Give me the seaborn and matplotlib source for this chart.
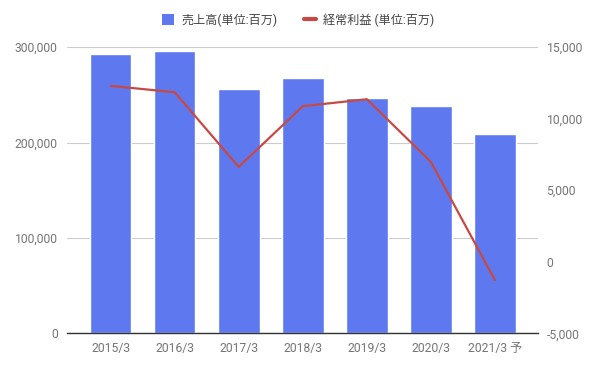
import numpy as np
import pandas as pd
import seaborn as sns
import matplotlib.pyplot as plt
from matplotlib.lines import Line2D
from matplotlib.patches import Patch
from matplotlib.ticker import FuncFormatter

# data
years = ["2015/3", "2016/3", "2017/3", "2018/3", "2019/3", "2020/3", "2021/3 予"]
sales = [292400, 295900, 255800, 267300, 246300, 238300, 208600]
ordinary_profit = [12290, 11850, 6630, 10870, 11360, 6980, -1280]

sales_label = "売上高(単位:百万)"
profit_label = "経常利益 (単位:百万)"

df = pd.DataFrame({"year": years, "sales": sales, "profit": ordinary_profit})

sns.set_style("white")
plt.rcParams["font.family"] = ["Roboto", "Noto Sans CJK JP", "DejaVu Sans"]

bar_color = "#5e79f0"
line_color = "#c64a43"
tick_color = "#757575"

fig, ax = plt.subplots(figsize=(5.96, 3.68), dpi=100)
fig.subplots_adjust(left=0.113, right=0.903, top=0.872, bottom=0.094)

sns.barplot(data=df, x="year", y="sales", order=years, color=bar_color,
            width=0.65, saturation=1, ax=ax, zorder=2)
ax.set_ylim(0, 300000)
ax.set_yticks([0, 100000, 200000, 300000])
ax.yaxis.set_major_formatter(FuncFormatter(lambda v, p: f"{int(v):,}"))
ax.grid(axis="y", color="#cccccc", linewidth=0.8, zorder=0)
ax.set_axisbelow(True)

ax2 = ax.twinx()
sns.pointplot(data=df, x="year", y="profit", order=years, color=line_color,
              markers="", linestyles="-", linewidth=1.6, errorbar=None, ax=ax2)
ax2.set_ylim(-5000, 15000)
ax2.set_yticks([-5000, 0, 5000, 10000, 15000])
ax2.yaxis.set_major_formatter(FuncFormatter(lambda v, p: f"{int(v):,}"))
ax.set_xlim(-0.675, len(years) - 0.325)
ax2.set_xlim(-0.675, len(years) - 0.325)

for a in (ax, ax2):
    a.set_xlabel("")
    a.set_ylabel("")
    for s in a.spines.values():
        s.set_visible(False)
    a.tick_params(axis="both", length=0, colors=tick_color, labelsize=8.7)
ax.spines["bottom"].set_visible(True)
ax.spines["bottom"].set_color("#333333")
ax.spines["bottom"].set_linewidth(1)
ax.tick_params(axis="x", pad=6)
ax.tick_params(axis="y", pad=7)
ax2.tick_params(axis="y", pad=6)

handles = [Patch(facecolor=bar_color, edgecolor="none"),
           Line2D([0], [0], color=line_color, linewidth=3)]
fig.legend(handles, [sales_label, profit_label], loc="center",
           bbox_to_anchor=(0.5, 0.945), ncol=2, frameon=False, fontsize=8.7,
           labelcolor="#444444", handlelength=1.0, handleheight=1.0,
           columnspacing=2.2, handletextpad=0.6)

fig.savefig("out.png", dpi=100)
